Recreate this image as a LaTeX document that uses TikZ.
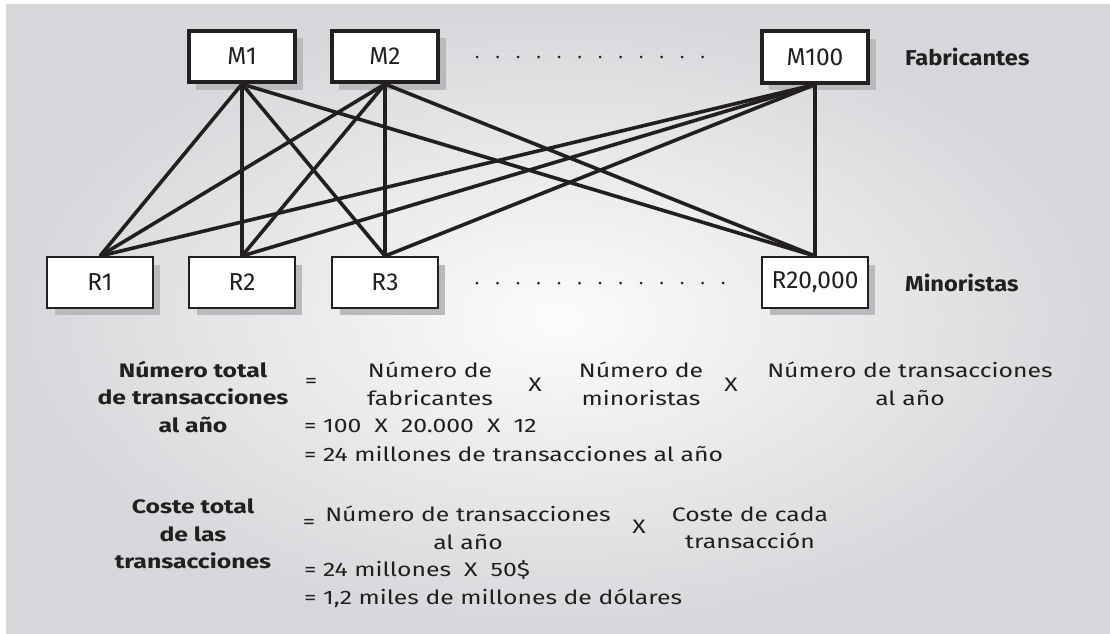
\documentclass[tikz,border=0pt]{standalone}
\usepackage{fontspec}
\setmainfont{Fira Sans}
\newfontfamily\widefont[FakeStretch=1.27]{Fira Sans}
\newfontfamily\labelfont[FakeStretch=1.1]{Fira Sans}
\usetikzlibrary{shadows}
\definecolor{bgedge}{RGB}{214,215,218}
\definecolor{bgmid}{RGB}{252,252,252}
\definecolor{shadowgray}{RGB}{185,186,190}
\definecolor{ink}{RGB}{35,31,32}
\begin{document}
\begin{tikzpicture}[x=1pt,y=-1pt,
  boxbase/.style={draw=ink, fill=white, inner sep=0pt, text=ink,
    font=\fontsize{24.5}{28}\selectfont,
    general shadow={fill=shadowgray, shadow xshift=7.5pt, shadow yshift=-7.5pt}},
  mbox/.style={boxbase, line width=3.6pt, minimum width=106.5pt, minimum height=51.5pt},
  rbox/.style={boxbase, line width=2.3pt, minimum width=105.7pt, minimum height=50.7pt},
  link/.style={draw=ink, line width=3.6pt},
  rowlabel/.style={font=\labelfont\bfseries\fontsize{21.5}{25}\selectfont, text=ink, anchor=west, inner sep=0pt},
  ftxt/.style={font=\widefont\fontsize{19.5}{27.5}\selectfont, text=ink, align=center, inner sep=0pt},
  btxt/.style={ftxt, font=\widefont\bfseries\fontsize{19.5}{27.5}\selectfont},
  dotmark/.style={fill=ink}]
\useasboundingbox (0,0) rectangle (1110,633);
\fill[white] (0,0) rectangle (1110,633);
\shade[inner color=bgmid, outer color=bgedge] (6,4) rectangle (1110,633);
% manufacturers
\node[mbox] (M1) at (242,56.5) {M1};
\node[mbox] (M2) at (385,56.5) {M2};
\node[mbox] (M100) at (815,57) {M100};
\node[rowlabel] (fab) at (905,57) {Fabricantes};
% retailers
\node[rbox] (R1) at (100,282.5) {R1};
\node[rbox] (R2) at (242,282.5) {R2};
\node[rbox] (R3) at (385,282.5) {R3};
\node[rbox] (R20) at (815,282.5) {R20,000};
\node[rowlabel] (mino) at (905,283) {Minoristas};
% dots
\foreach \i in {0,...,11} \fill[dotmark] (477+20.5*\i,57) circle (1.5pt);
\foreach \i in {0,...,12} \fill[dotmark] (477+20.5*\i,283) circle (1.5pt);
% connectors
\foreach \m in {M1,M2,M100}
  \foreach \r in {R1,R2,R3,R20}
    \draw[link] (\m.south) -- (\r.north);
% first formula
\node[btxt] (tot1) at (193,397) {Número total\\de transacciones\\al año};
\node[ftxt] (eqa) at (311,383) {=};
\node[ftxt] (nfab) at (430,384) {Número de\\fabricantes};
\node[ftxt] (xa) at (535,385) {X};
\node[ftxt] (nmin) at (641,384) {Número de\\minoristas};
\node[ftxt] (xb) at (731,385) {X};
\node[ftxt] (ntra) at (910,384) {Número de transacciones\\al año};
\node[ftxt, anchor=west] (calc1) at (304,426) {= 100 \ X \ 20.000 \ X \ 12};
\node[ftxt, anchor=west] (res1) at (304,454) {= 24 millones de transacciones al año};
% second formula
\node[btxt] (tot2) at (193,534) {Coste total\\de las\\transacciones};
\node[ftxt] (eqb) at (309,524) {=};
\node[ftxt] (ntrb) at (468,528) {Número de transacciones\\al año};
\node[ftxt] (xc) at (639,527) {X};
\node[ftxt] (cost) at (750,528) {Coste de cada\\transacción};
\node[ftxt, anchor=west] (calc2) at (304,570) {= 24 millones \ X \ 50\$};
\node[ftxt, anchor=west] (res2) at (304,598) {= 1,2 miles de millones de dólares};
\end{tikzpicture}
\end{document}
